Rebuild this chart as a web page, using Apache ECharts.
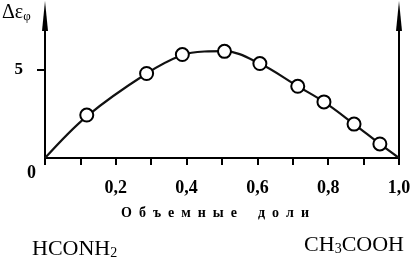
<!DOCTYPE html>
<html>
<head>
<meta charset="utf-8">
<script src="https://cdn.jsdelivr.net/npm/echarts@6/dist/echarts.min.js"></script>
<style>
html,body{margin:0;padding:0;background:#fff;}
#c{width:417px;height:264px;}
</style>
</head>
<body>
<div id="c"></div>
<script>
// Measured points (volume fraction, Δε_φ)
const pointX = [0.118, 0.287, 0.388, 0.507, 0.607, 0.714, 0.788, 0.873, 0.946];
const pointY = [2.42, 4.76, 5.83, 6.01, 5.32, 4.04, 3.16, 1.91, 0.79];
// Fitted curve
const curveX = [0, 0.118, 0.287, 0.388, 0.45, 0.507, 0.607, 0.714, 0.788, 0.873, 0.946, 1.0];
const curveY = [0, 2.35, 4.76, 5.8, 6.0, 6.02, 5.32, 4.04, 3.16, 1.91, 0.79, 0];
const xLabelValues = [0.2, 0.4, 0.6, 0.8, 1.0];
const yLabelValues = [5];

const serif = '"Liberation Serif", "DejaVu Serif", serif';
const chart = echarts.init(document.getElementById('c'), null, {renderer: 'canvas'});

const arrowLine = {
  show: true,
  onZero: false,
  symbol: ['none', 'triangle'],
  symbolSize: [6, 30],
  lineStyle: {color: '#000', width: 2}
};

chart.setOption({
  backgroundColor: '#fff',
  animation: false,
  grid: {left: 45, right: 18, top: 16, bottom: 106, containLabel: false},
  xAxis: {
    type: 'value', min: 0, max: 1, interval: 0.1,
    axisLine: {show: true, onZero: false, lineStyle: {color: '#000', width: 2}},
    axisTick: {show: true, length: 7, lineStyle: {color: '#000', width: 2}},
    axisLabel: {
      customValues: xLabelValues,
      margin: 21,
      color: '#000',
      fontFamily: serif, fontWeight: 'bold', fontSize: 18,
      formatter: v => v.toFixed(1).replace('.', ',')
    },
    splitLine: {show: false}
  },
  yAxis: [{
    type: 'value', min: 0, max: 8, interval: 5, position: 'left',
    axisLine: arrowLine,
    axisTick: {show: true, customValues: yLabelValues, length: 8, lineStyle: {color: '#000', width: 2}},
    axisLabel: {
      customValues: yLabelValues, margin: 22, color: '#000',
      fontFamily: serif, fontWeight: 'bold', fontSize: 17
    },
    splitLine: {show: false}
  }, {
    type: 'value', min: 0, max: 8, interval: 5, position: 'right',
    axisLine: arrowLine,
    axisTick: {show: false},
    axisLabel: {show: false},
    splitLine: {show: false}
  }],
  series: [{
    type: 'line',
    data: curveX.map((x, i) => [x, curveY[i]]),
    smooth: 0.35,
    showSymbol: false,
    lineStyle: {color: '#111', width: 2.2},
    z: 2
  }, {
    type: 'scatter',
    data: pointX.map((x, i) => [x, pointY[i]]),
    symbol: 'circle',
    symbolSize: 13,
    itemStyle: {color: '#fff', borderColor: '#000', borderWidth: 2, opacity: 1},
    z: 3
  }],
  graphic: [
    {type: 'text', left: 2, top: 3, style: {
      text: '{a|Δε}{b|φ}',
      rich: {
        a: {fontFamily: serif, fontSize: 20, fill: '#000'},
        b: {fontFamily: serif, fontSize: 13, fill: '#000', padding: [8, 0, 0, 0]}
      }
    }},
    {type: 'text', left: 27, top: 164, style: {
      text: '0', fontFamily: serif, fontWeight: 'bold', fontSize: 18, fill: '#000'
    }},
    {type: 'text', left: 121, top: 206, style: {
      text: 'О\u2002б\u2002ъ\u2002е\u2002м\u2002н\u2002ы\u2002е\u2003\u2002д\u2002о\u2002л\u2002и',
      fontFamily: serif, fontWeight: 'bold', fontSize: 14, fill: '#000'
    }},
    {type: 'text', left: 32, top: 238, style: {
      text: '{a|HCONH}{b|2}',
      rich: {
        a: {fontFamily: serif, fontSize: 22, fill: '#000'},
        b: {fontFamily: serif, fontSize: 14, fill: '#000', padding: [8, 0, 0, 0]}
      }
    }},
    {type: 'text', right: 13, top: 234, style: {
      text: '{a|CH}{b|3}{a|COOH}',
      rich: {
        a: {fontFamily: serif, fontSize: 22, fill: '#000'},
        b: {fontFamily: serif, fontSize: 14, fill: '#000', padding: [8, 0, 0, 0]}
      }
    }}
  ]
});
</script>
</body>
</html>
